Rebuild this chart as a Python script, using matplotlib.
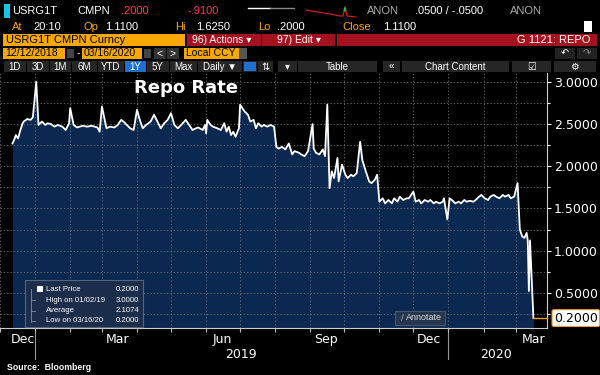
import numpy as np
import pandas as pd
import matplotlib
matplotlib.use('Agg')
import matplotlib.pyplot as plt
from matplotlib.patches import Rectangle

# repo rate readings
dates = ['2018-12-12', '2018-12-14', '2018-12-15', '2018-12-17', '2018-12-19', '2018-12-21', '2018-12-22',
         '2018-12-25', '2018-12-28', '2018-12-30',
         '2019-01-02', '2019-01-04', '2019-01-07', '2019-01-10', '2019-01-12', '2019-01-15', '2019-01-18',
         '2019-01-21', '2019-01-25', '2019-01-28', '2019-01-31',
         '2019-02-01', '2019-02-04', '2019-02-07', '2019-02-12', '2019-02-16', '2019-02-20', '2019-02-25',
         '2019-02-27',
         '2019-03-01', '2019-03-05', '2019-03-08', '2019-03-12', '2019-03-15', '2019-03-18', '2019-03-20',
         '2019-03-23', '2019-03-26', '2019-03-29',
         '2019-04-01', '2019-04-03', '2019-04-06', '2019-04-09', '2019-04-13', '2019-04-16', '2019-04-19',
         '2019-04-22', '2019-04-25', '2019-04-28',
         '2019-05-01', '2019-05-04', '2019-05-07', '2019-05-10', '2019-05-14', '2019-05-17', '2019-05-20',
         '2019-05-23', '2019-05-25', '2019-05-29', '2019-05-31',
         '2019-06-01', '2019-06-02', '2019-06-05', '2019-06-07', '2019-06-11', '2019-06-14', '2019-06-17',
         '2019-06-19', '2019-06-21', '2019-06-23', '2019-06-25', '2019-06-27', '2019-06-30',
         '2019-07-01', '2019-07-05', '2019-07-08', '2019-07-10', '2019-07-13', '2019-07-15', '2019-07-17',
         '2019-07-20', '2019-07-22', '2019-07-25', '2019-07-28', '2019-07-31',
         '2019-08-02', '2019-08-04', '2019-08-07', '2019-08-10', '2019-08-13', '2019-08-16', '2019-08-18',
         '2019-08-22', '2019-08-24', '2019-08-27', '2019-08-30',
         '2019-09-03', '2019-09-04', '2019-09-06', '2019-09-09', '2019-09-12', '2019-09-14', '2019-09-16',
         '2019-09-18', '2019-09-20', '2019-09-22', '2019-09-25', '2019-09-26', '2019-09-29',
         '2019-10-02', '2019-10-04', '2019-10-07', '2019-10-09', '2019-10-12', '2019-10-15', '2019-10-17',
         '2019-10-20', '2019-10-23', '2019-10-25', '2019-10-28', '2019-10-30',
         '2019-11-01', '2019-11-04', '2019-11-06', '2019-11-09', '2019-11-12', '2019-11-14', '2019-11-17',
         '2019-11-19', '2019-11-22', '2019-11-25', '2019-11-27', '2019-11-30',
         '2019-12-01', '2019-12-03', '2019-12-06', '2019-12-08', '2019-12-11', '2019-12-14', '2019-12-16',
         '2019-12-19', '2019-12-21', '2019-12-24', '2019-12-27', '2019-12-28', '2019-12-31',
         '2020-01-02', '2020-01-04', '2020-01-07', '2020-01-10', '2020-01-12', '2020-01-15', '2020-01-17',
         '2020-01-20', '2020-01-23', '2020-01-25', '2020-01-28', '2020-01-30',
         '2020-02-02', '2020-02-05', '2020-02-07', '2020-02-10', '2020-02-12', '2020-02-15', '2020-02-18',
         '2020-02-20', '2020-02-23', '2020-02-25', '2020-02-28',
         '2020-03-02', '2020-03-04', '2020-03-06', '2020-03-08', '2020-03-10', '2020-03-11', '2020-03-12',
         '2020-03-13', '2020-03-16']
rate = [2.27, 2.33, 2.37, 2.33, 2.43, 2.51, 2.53, 2.56, 2.55, 2.58,
        3.00, 2.49, 2.53, 2.49, 2.51, 2.50, 2.47, 2.49, 2.47, 2.43, 2.51,
        2.69, 2.49, 2.46, 2.48, 2.47, 2.48, 2.46, 2.41,
        2.71, 2.45, 2.47, 2.46, 2.49, 2.55, 2.53, 2.49, 2.45, 2.43,
        2.67, 2.57, 2.45, 2.49, 2.53, 2.61, 2.53, 2.45, 2.51, 2.55,
        2.63, 2.49, 2.45, 2.49, 2.55, 2.49, 2.43, 2.45, 2.46, 2.43, 2.49,
        2.39, 2.55, 2.49, 2.47, 2.45, 2.43, 2.51, 2.41, 2.47, 2.37, 2.41, 2.35, 2.45,
        2.73, 2.65, 2.61, 2.53, 2.55, 2.45, 2.51, 2.47, 2.49, 2.47, 2.49, 2.47,
        2.23, 2.21, 2.23, 2.20, 2.27, 2.14, 2.18, 2.16, 2.14, 2.12, 2.18,
        2.50, 2.21, 2.16, 2.14, 2.20, 2.12, 2.73, 1.74, 1.94, 1.86, 2.10, 1.82, 2.02,
        1.90, 1.86, 1.90, 1.88, 1.92, 2.29, 2.07, 1.94, 1.82, 1.80, 1.84, 1.90,
        1.58, 1.62, 1.56, 1.60, 1.56, 1.62, 1.58, 1.64, 1.60, 1.62, 1.62, 1.68,
        1.70, 1.58, 1.60, 1.56, 1.60, 1.58, 1.60, 1.56, 1.58, 1.56, 1.58, 1.62, 1.37,
        1.62, 1.60, 1.56, 1.58, 1.56, 1.60, 1.58, 1.59, 1.58, 1.60, 1.64, 1.66,
        1.62, 1.60, 1.64, 1.66, 1.64, 1.62, 1.66, 1.64, 1.66, 1.62, 1.64,
        1.80, 1.25, 1.17, 1.15, 1.21, 1.12, 0.52, 1.12, 0.20]

month_labels = ['Dec', 'Mar', 'Jun', 'Sep', 'Dec', 'Mar']
month_label_dates = ['2018-12-21', '2019-03-15', '2019-06-15', '2019-09-15', '2019-12-15', '2020-03-16']
year_labels = ['2019', '2020']
year_label_dates = ['2019-07-02', '2020-02-12']
year_starts = ['2019-01-01', '2020-01-01']

legend_names = ['Last Price', 'High on 01/02/19', 'Average', 'Low on 03/16/20']
legend_values = ['0.2000', '3.0000', '2.1074', '0.2000']

d = pd.to_datetime(dates)
last = rate[-1]

sans = 'Liberation Sans'
navy = '#0b2850'
amber = '#f6a800'
red = '#a3121e'
W, H = 600, 375

fig = plt.figure(figsize=(6, 3.75), dpi=100, facecolor='black')

# ---- chart ----
ax = fig.add_axes([0, 1 - 328 / H, 547 / W, 255 / H])
ax.set_facecolor('black')
ymin, ymax = 0.082, 3.106
xmin, xmax = pd.Timestamp('2018-12-09'), pd.Timestamp('2020-03-28')
ax.fill_between(d, rate, ymin, color=navy, lw=0, zorder=1)
ax.plot(d, rate, color='white', lw=1.3, zorder=4)
ax.plot([d[-1], xmax], [last, last], color='#f0a030', lw=1, zorder=4, clip_on=False)
ax.set_xlim(xmin, xmax)
ax.set_ylim(ymin, ymax)

ax.set_xticks(pd.date_range('2018-12-01', '2020-03-01', freq='MS'))
ax.set_xticklabels([])
ax.tick_params(axis='x', colors='#bbbbbb', length=3, width=0.8)
ax.yaxis.tick_right()
ax.set_yticks(np.arange(0.5, 3.01, 0.5))
ax.set_yticks(np.arange(0.25, 3.01, 0.25), minor=True)
ax.yaxis.set_major_formatter(matplotlib.ticker.FormatStrFormatter('%.4f'))
ax.tick_params(axis='y', which='both', colors='white', labelsize=9, length=3, width=0.8, pad=2)
ax.tick_params(axis='y', which='minor', length=2)
ax.set_axisbelow(False)
ax.grid(True, axis='x', which='major', color='#8a8a8a', ls=(0, (1.5, 2.5)), lw=0.6, alpha=0.8)
ax.grid(True, axis='y', which='both', color='#8a8a8a', ls=(0, (1.5, 2.5)), lw=0.6, alpha=0.8)
for s in ['top', 'left']:
    ax.spines[s].set_visible(False)
ax.spines['bottom'].set_color('#cccccc')
ax.spines['right'].set_color('#cccccc')

ax.text(0.34, 0.94, 'Repo Rate', transform=ax.transAxes, color='white', fontsize=13,
        fontweight='bold', ha='center', va='center')

ax.annotate('%.4f' % last, xy=(1, last), xycoords=('axes fraction', 'data'),
            xytext=(5, 0), textcoords='offset points', ha='left', va='center',
            color='black', fontsize=9, annotation_clip=False,
            bbox=dict(boxstyle='round,pad=0.15', fc='white', ec='#f0a030', lw=0.8))

xt = ax.get_xaxis_transform()
for lab, ld in zip(month_labels, month_label_dates):
    ax.text(pd.Timestamp(ld), -0.018, lab, transform=xt, color='white', fontsize=9,
            ha='center', va='top', clip_on=False)
for lab, ld in zip(year_labels, year_label_dates):
    ax.text(pd.Timestamp(ld), -0.078, lab, transform=xt, color='white', fontsize=9,
            ha='center', va='top', clip_on=False)
for ys in year_starts:
    ax.plot([pd.Timestamp(ys)] * 2, [0, -0.12], transform=xt, color='#999999', lw=0.8,
            clip_on=False)

# ---- terminal chrome (overlay in pixel coords) ----
ov = fig.add_axes([0, 0, 1, 1], zorder=10)
ov.set_xlim(0, W)
ov.set_ylim(H, 0)
ov.axis('off')
ov.patch.set_alpha(0)


def box(x0, y0, w, h, fc, ec='none', lw=0.8):
    ov.add_patch(Rectangle((x0, y0), w, h, fc=fc, ec=ec, lw=lw))


def txt(x, y, s, c='white', fs=8, ha='left', fam=sans, **kw):
    ov.text(x, y, s, color=c, fontsize=fs, ha=ha, va='center', family=[fam, 'DejaVu Sans'], **kw)


# row 1
box(4, 4, 6, 14, '#19c3e6')
txt(12, 11, 'USRG1T')
txt(77, 11, 'CMPN')
txt(121, 11, '.2000', c='#ff3b3b')
txt(188, 11, '-.9100', c='#ff3b3b')
ov.plot([248, 270], [8, 8], color='white', lw=1)
ov.plot([270, 294], [8, 8], color='#888888', lw=1)
ov.plot([306, 330, 340, 343, 345, 347, 356], [10, 14, 16, 16, 8, 16, 17], color='#e02020', lw=0.8)
ov.plot([344, 345, 346], [11, 7, 11], color='#22cc22', lw=0.8)
txt(367, 11, 'ANON', c='#aaaaaa')
txt(415, 11, '.0500 / -.0500')
txt(510, 11, 'ANON', c='#aaaaaa')

# row 2
for lx, lab, vx, val in [(12, 'At', 33, '20:10'), (84, 'Op', 105, '1.1100'), (175, 'Hi', 196, '1.6250'),
                         (258, 'Lo', 277, '.2000'), (342, 'Close', 383, '1.1100')]:
    txt(lx, 27, lab, c=amber)
    txt(vx, 27, val)
box(584, 21, 8, 11, 'white')

# row 3
box(3, 34, 182, 12, amber)
txt(6, 40, 'USRG1T CMPN Curncy', c='black')
box(187, 34, 74, 12, red)
txt(192, 40, '96) Actions \u25be', fs=7.5)
box(262, 34, 73, 12, red)
txt(277, 40, '97) Edit \u25be', fs=7.5)
box(337, 34, 260, 12, red)
txt(590, 40, 'G 1121: REPO', ha='right')

# row 4
box(3, 48, 62, 11, amber)
txt(5, 53.5, '12/12/2018', c='black', fs=7.5)
box(67, 49, 7, 9, '#444444')
txt(77, 53.5, '-', fs=7.5)
box(82, 48, 60, 11, amber)
txt(84, 53.5, '03/16/2020', c='black', fs=7.5)
box(144, 49, 7, 9, '#444444')
box(154, 48, 12, 11, '#333333')
txt(160, 53.5, '<', fs=7.5, ha='center')
box(167, 48, 12, 11, '#333333')
txt(173, 53.5, '>', fs=7.5, ha='center')
box(184, 48, 55, 11, amber)
txt(186, 53.5, 'Local CCY', c='black', fs=7.5)
box(239, 48, 8, 11, '#555555')
box(555, 48, 20, 11, '#222222')
box(577, 48, 20, 11, '#222222')
txt(565, 53.5, '\u21b6', fs=7, ha='center', fam='DejaVu Sans')
txt(587, 53.5, '\u21b7', fs=7, ha='center', c='#888888', fam='DejaVu Sans')

# row 5 buttons
buttons = [('1D', 4, 23), ('3D', 27, 23), ('1M', 50, 22), ('6M', 72, 26), ('YTD', 98, 27),
           ('1Y', 125, 22), ('5Y', 147, 23), ('Max', 170, 28), ('Daily \u25bc', 198, 45),
           ('', 243, 15), ('\u21c5', 258, 16), ('\u25be', 278, 20), ('Table', 298, 80),
           ('\u00ab', 383, 18), ('Chart Content', 402, 108), ('\u2611', 512, 40), ('\u2699', 554, 43)]
for lab, x0, w in buttons:
    fc = '#1f6fd1' if lab == '1Y' else '#262626'
    box(x0, 61, w - 1.5, 11, fc)
    if lab:
        txt(x0 + (w - 1.5) / 2, 66.5, lab, fs=7, ha='center')
box(244, 62, 12, 9, '#1f6fd1')

# legend box
box(25, 280, 118, 47, '#1b2d4a', ec='#55657f')
ov.add_patch(Rectangle((37, 286), 6, 6, fc='white', ec='none'))
ov.plot([31, 31], [289, 322], color='#8090a8', lw=0.6)
for i, (nm, vl) in enumerate(zip(legend_names, legend_values)):
    y = 289.5 + i * 10.5
    txt(46, y, nm, fs=5.6)
    txt(139, y, vl, fs=5.6, ha='right')
    if i > 0:
        ov.plot([31, 35], [y, y], color='#8090a8', lw=0.6)

# annotate button
box(395, 311, 50, 14, '#26364f', ec='#46566f')
txt(424, 318, 'Annotate', fs=6.5, ha='center', c='#dddddd')
txt(402, 318, '\u2215', fs=6, ha='center', c='#bbbbbb', fam='DejaVu Sans')

txt(7, 367, 'Source:  Bloomberg', fs=6.3, fontweight='bold')

fig.savefig('out.png', dpi=100, facecolor='black')
